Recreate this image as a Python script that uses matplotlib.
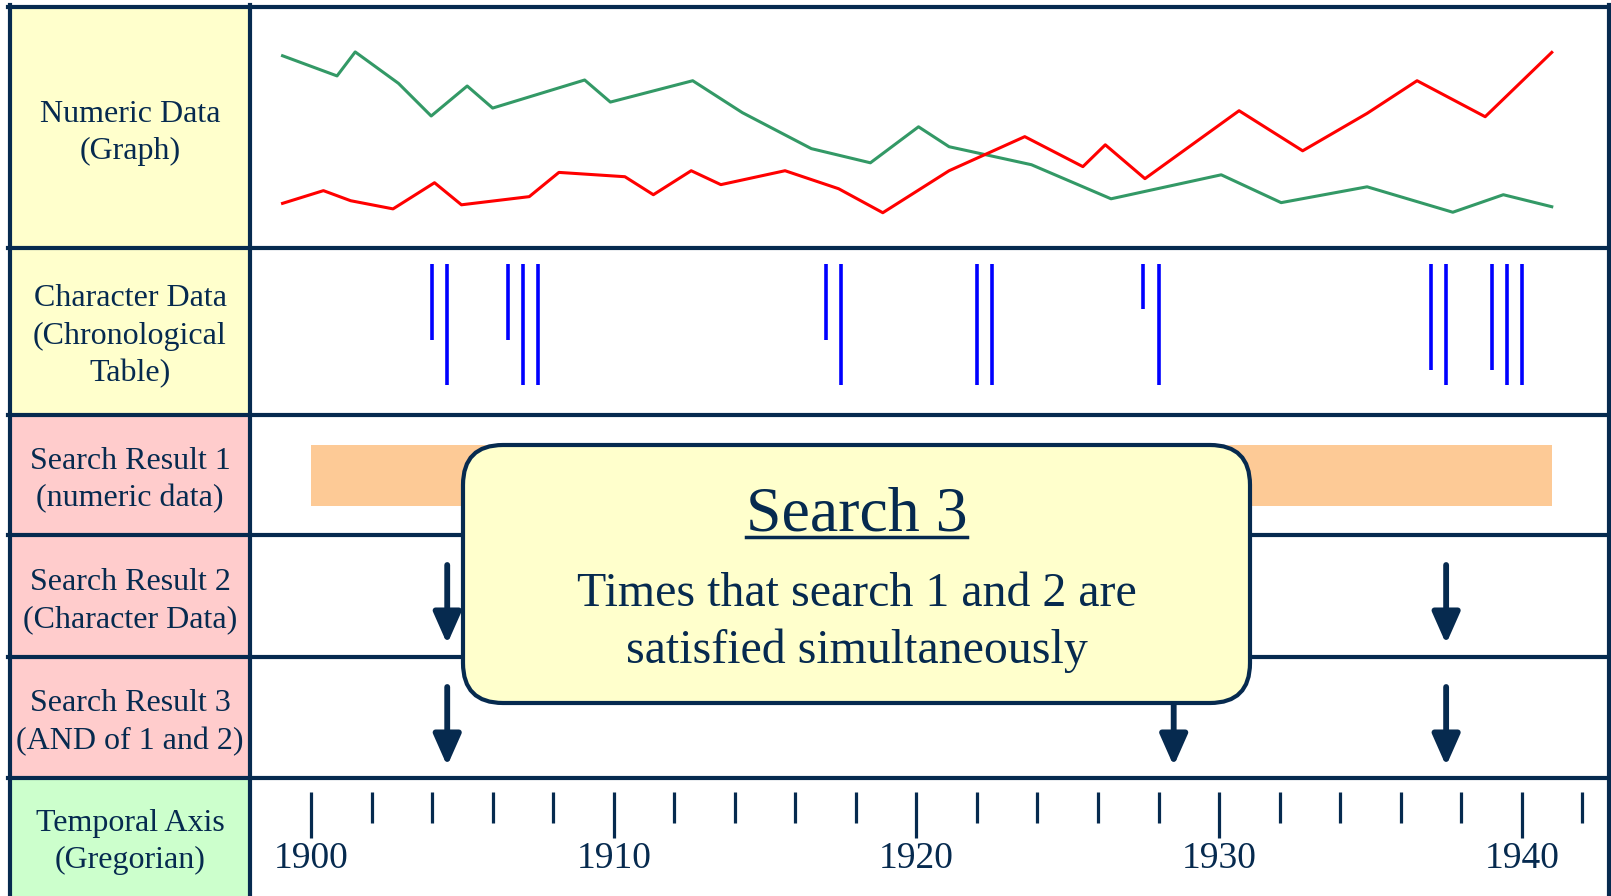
import matplotlib
matplotlib.use('Agg')
import matplotlib.pyplot as plt
from matplotlib.patches import Rectangle, FancyBboxPatch
from matplotlib.lines import Line2D

plt.rcParams['font.family'] = ['Liberation Serif', 'DejaVu Serif']

#--------------------------------------------------
# data
#--------------------------------------------------
green_years = [1899.06, 1900.86, 1901.46, 1902.89, 1903.97, 1905.16, 1906.00,
               1909.04, 1909.89, 1912.61, 1914.25, 1916.53, 1918.48, 1920.07,
               1921.08, 1923.80, 1926.43, 1930.07, 1932.05, 1934.89, 1937.72,
               1939.39, 1940.99]
green_vals = [80.1, 71.7, 81.7, 68.6, 55.0, 67.5, 58.3, 70.0, 60.8, 69.7, 56.4,
              41.4, 35.5, 50.5, 42.2, 34.7, 20.5, 30.5, 18.9, 25.5, 14.9, 22.2, 17.2]

red_years = [1899.06, 1900.41, 1901.31, 1902.71, 1904.08, 1904.97, 1907.21,
             1908.19, 1910.37, 1911.31, 1912.56, 1913.54, 1915.66, 1917.43,
             1918.89, 1921.08, 1923.58, 1925.50, 1926.24, 1927.55, 1930.66,
             1932.76, 1934.89, 1936.54, 1938.79, 1940.99]
red_vals = [18.6, 23.9, 19.7, 16.3, 27.2, 18.0, 21.4, 31.5, 29.7, 22.2, 32.2,
            26.4, 32.2, 24.7, 14.7, 32.2, 46.4, 33.9, 43.0, 28.9, 57.2, 40.5,
            56.1, 69.7, 54.7, 81.5]

# chronological table entries (year, mark length)
char_years = [1904, 1904.5, 1906.5, 1907, 1907.5, 1917, 1917.5, 1922, 1922.5,
              1927.5, 1928, 1937, 1937.5, 1939, 1939.5, 1940]
char_lens = [76, 121, 76, 121, 121, 76, 121, 121, 121, 45, 121, 106, 121, 106, 121, 121]

search1_start, search1_end = 1900, 1941
search2_years = [1904.5, 1928.5, 1937.5]
search3_years = [1904.5, 1928.5, 1937.5]

minor_years = list(range(1900, 1943, 2))
major_years = [1900, 1910, 1920, 1930, 1940]

row_labels = ['Numeric Data\n(Graph)',
              'Character Data\n(Chronological\nTable)',
              'Search Result 1\n(numeric data)',
              'Search Result 2\n(Character Data)',
              'Search Result 3\n(AND of 1 and 2)',
              'Temporal Axis\n(Gregorian)']
row_colors = ['#ffffcc', '#ffffcc', '#ffcccc', '#ffcccc', '#ffcccc', '#ccffcc']

#--------------------------------------------------
# layout (pixels)
#--------------------------------------------------
W, H = 1611, 896
navy = '#062a4f'
edges = [7.5, 248, 415, 535, 657, 778, 896]
x_left, x_col, x_right = 10, 250, 1609

def px2year(px):
    return 1900 + (px - 311) / 30.27

fig = plt.figure(figsize=(W / 100, H / 100), dpi=100)

axs = []
for i in range(6):
    top, bot = edges[i], edges[i + 1]
    a = fig.add_axes([x_col / W, 1 - bot / H, (x_right - x_col) / W, (bot - top) / H])
    a.set_xlim(px2year(x_col), px2year(x_right))
    a.axis('off')
    axs.append(a)

# numeric data
ax = axs[0]
ax.set_ylim(0, (248 - 7.5) / 2.4)
ax.plot(green_years, green_vals, color='#339966', lw=2.2)
ax.plot(red_years, red_vals, color='#ff0000', lw=2.2)

# character data
ax = axs[1]
ax.set_ylim(edges[2] - edges[1], 0)
ax.vlines(char_years, 16, [16 + l for l in char_lens], color='#0000ff', lw=2.6)

# search 1
ax = axs[2]
ax.set_ylim(edges[3] - edges[2], 0)
ax.barh(60.3, search1_end - search1_start, left=search1_start, height=60.7,
        color='#fdca96')

# search 2 and 3 arrows
for ax, yrs, h in [(axs[3], search2_years, edges[4] - edges[3]),
                   (axs[4], search3_years, edges[5] - edges[4])]:
    ax.set_ylim(h, 0)
    for yr in yrs:
        ax.annotate('', xy=(yr, 109), xytext=(yr, 30),
                    arrowprops=dict(arrowstyle='-|>,head_length=0.95,head_width=0.42',
                                    mutation_scale=20, lw=4.2, color=navy,
                                    shrinkA=0, shrinkB=0))

# temporal axis
ax = axs[5]
ax.set_ylim(edges[6] - edges[5], 0)
ax.vlines([y for y in minor_years if y not in major_years], 14, 45, color=navy, lw=2.3)
ax.vlines(major_years, 14, 60, color=navy, lw=2.3)
for yr in major_years:
    ax.text(yr, 90, str(yr), ha='center', va='baseline', fontsize=27, color=navy)

#--------------------------------------------------
# overlay: table frame, labels, callout
#--------------------------------------------------
ov = fig.add_axes([0, 0, 1, 1], zorder=10)
ov.set_xlim(0, W)
ov.set_ylim(H, 0)
ov.axis('off')
ov.patch.set_visible(False)

for i in range(6):
    ov.add_patch(Rectangle((x_left, edges[i]), x_col - x_left, edges[i + 1] - edges[i],
                           facecolor=row_colors[i], edgecolor='none', zorder=1))
    ov.text((x_left + x_col) / 2, (edges[i] + edges[i + 1]) / 2 + 5, row_labels[i],
            ha='center', va='center', multialignment='center', fontsize=23,
            linespacing=1.38, color=navy, zorder=3)

frame_lw = 3
for y in edges[:-1]:
    ov.add_line(Line2D([x_left - 2, W], [y, y], color=navy, lw=frame_lw, zorder=2))
for x in (x_left, x_col, x_right):
    ov.add_line(Line2D([x, x], [edges[0] - 2, H], color=navy, lw=frame_lw, zorder=2))

# callout box
bx0, by0, bx1, by1 = 463, 445, 1250, 703
ov.add_patch(FancyBboxPatch((bx0 + 40, by0 + 40), bx1 - bx0 - 80, by1 - by0 - 80,
                            boxstyle='round,pad=40', facecolor='#ffffcc',
                            edgecolor=navy, lw=3, zorder=5))
cx = (bx0 + bx1) / 2
title = ov.text(cx, 530.5, 'Search 3', ha='center', va='baseline', fontsize=46,
                color=navy, zorder=6)
ov.text(cx, 606.5, 'Times that search 1 and 2 are', ha='center', va='baseline',
        fontsize=34.5, color=navy, zorder=6)
ov.text(cx, 663, 'satisfied simultaneously', ha='center', va='baseline',
        fontsize=34.5, color=navy, zorder=6)

fig.canvas.draw()
bb = title.get_window_extent()
ov.add_line(Line2D([bb.x0, bb.x1], [537, 537], color=navy, lw=2.5, zorder=6))

fig.savefig('out.png', dpi=100, facecolor='white')
